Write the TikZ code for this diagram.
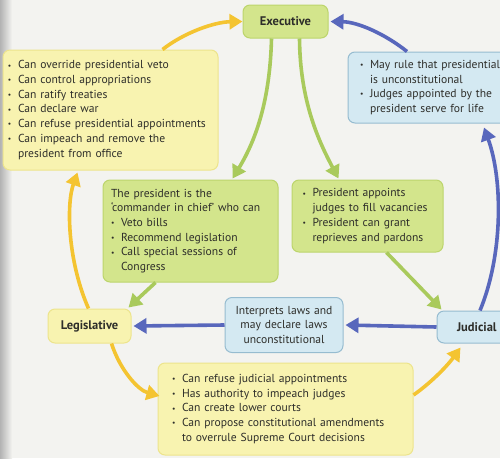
\documentclass[tikz,border=0pt]{standalone}
\usepackage{fontspec}
\usepackage{graphicx}
\setmainfont{PT Sans}
\usetikzlibrary{arrows.meta,calc}
\hyphenpenalty=10000
\definecolor{bgcol}{HTML}{F3F3F0}
\definecolor{txtcol}{HTML}{2E2E2A}
\definecolor{ylwfill}{HTML}{F8F3B0}
\definecolor{ylwdraw}{HTML}{EDE48C}
\definecolor{grnfill}{HTML}{D3E58C}
\definecolor{grndraw}{HTML}{BCD56C}
\definecolor{blufill}{HTML}{D4E9F2}
\definecolor{bludraw}{HTML}{96BCD0}
\definecolor{ylwarr}{HTML}{F4C431}
\definecolor{grnarr}{HTML}{A9CA5C}
\definecolor{bluarr}{HTML}{5867BC}
\newcommand\myb{\makebox[10pt][l]{\raisebox{0.15ex}{\scalebox{0.65}{•}}}}
\newcommand\myc{\hspace*{10pt}}
\tikzset{
  box/.style={draw, rounded corners=7pt, line width=1pt, inner sep=0pt,
    align=left, text=txtcol, font=\fontsize{11.6}{14.7}\selectfont},
  ybox/.style={box, fill=ylwfill, draw=ylwdraw},
  gbox/.style={box, fill=grnfill, draw=grndraw},
  bbox/.style={box, fill=blufill, draw=bludraw},
  lbl/.style={font=\bfseries\fontsize{12.5}{14}\selectfont, align=center},
  arr/.style={line width=3.6pt, -{Triangle[length=13pt,width=15pt]}},
  yarr/.style={arr, draw=ylwarr},
  garr/.style={arr, draw=grnarr},
  barr/.style={arr, draw=bluarr},
}
\begin{document}
\begin{tikzpicture}[x=1pt,y=-1pt]
\useasboundingbox (0,0) rectangle (500,458);
\fill[bgcol] (0,0) rectangle (500,458);
\shade[left color=black!30, right color=bgcol] (0,0) rectangle (12,458);

% label boxes
\node[gbox, lbl, minimum width=85pt, minimum height=33pt] (exe) at (285.5,21.5) {Executive};
\node[ybox, lbl, minimum width=83pt, minimum height=34pt] (leg) at (89.5,326) {Legislative};
\node[bbox, lbl, minimum width=80pt, minimum height=32pt, text width=70pt, align=left] (jud) at (477,327) {\hspace*{15pt}Judicial};

% content boxes
\node[ybox, minimum width=215pt, minimum height=120pt, text width=205pt] (lbox) at (110.5,110) {%
\myb Can override presidential veto\\
\myb Can control appropriations\\
\myb Can ratify treaties\\
\myb Can declare war\\
\myb Can refuse presidential appointments\\
\myb Can impeach and remove the\\
\myc president from office};

\node[bbox, minimum width=170pt, minimum height=71pt, text width=146pt] (rbox) at (433,87.5) {%
\myb May rule that presidential\\
\myc is unconstitutional\\
\myb Judges appointed by the\\
\myc president serve for life};

\node[gbox, minimum width=175pt, minimum height=102pt, text width=159pt] (glbox) at (190.5,231) {%
The president is the\\
`commander in chief' who can\\
\myb Veto bills\\
\myb Recommend legislation\\
\myb Call special sessions of\\
\myc Congress};

\node[gbox, minimum width=151pt, minimum height=72pt, text width=130pt] (grbox) at (367.5,216) {%
\myb President appoints\\
\myc judges to fill vacancies\\
\myb President can grant\\
\myc reprieves and pardons};

\node[bbox, align=center, minimum width=118pt, minimum height=55pt, text width=110pt] (mbox) at (284,325) {%
Interprets laws and\\
may declare laws\\
unconstitutional};

\node[ybox, minimum width=255pt, minimum height=92pt, text width=227pt] (bbox) at (285.5,409) {%
\myb Can refuse judicial appointments\\
\myb Has authority to impeach judges\\
\myb Can create lower courts\\
\myb Can propose constitutional amendments\\
\myc to overrule Supreme Court decisions};

% yellow arrows
\draw[yarr] ($(lbox.north)+(52,0)$) .. controls (185,32) and (215,22) .. (exe.west);
\draw[yarr] ($(leg.north)+(-1,0)$) .. controls (68,262) and (66,205) .. ($(lbox.south)+(-33,2)$);
\draw[yarr] ($(leg.south)+(22,0)$) .. controls (120,370) and (138,390) .. ($(bbox.west)+(2,-13)$);
\draw[yarr] ($(bbox.east)+(0,-14)$) .. controls (432,382) and (448,365) .. ($(jud.south west)+(24,4)$);

% blue arrows
\draw[barr] ($(jud.north)+(3,0)$) .. controls (503,255) and (503,180) .. ($(rbox.south)+(51,4)$);
\draw[barr] ($(rbox.north)+(-26,0)$) .. controls (385,34) and (358,22) .. ($(exe.east)+(2,0)$);
\draw[barr] (jud.west) -- ($(mbox.east)+(2,0)$);
\draw[barr] (mbox.west) -- ($(leg.east)+(2,0)$);

% green arrows
\draw[garr] ($(exe.south)+(-14,0)$) .. controls (270,100) and (256,140) .. ($(glbox.north)+(42,-1)$);
\draw[garr] ($(exe.south)+(14,0)$) .. controls (300,100) and (318,140) .. ($(grbox.north)+(-29,-1)$);
\draw[garr] ($(glbox.south)+(-35,0)$) -- ($(leg.north east)+(-3,-1)$);
\draw[garr] ($(grbox.south)+(19,0)$) -- ($(jud.north west)+(5,-1)$);
\end{tikzpicture}
\end{document}
